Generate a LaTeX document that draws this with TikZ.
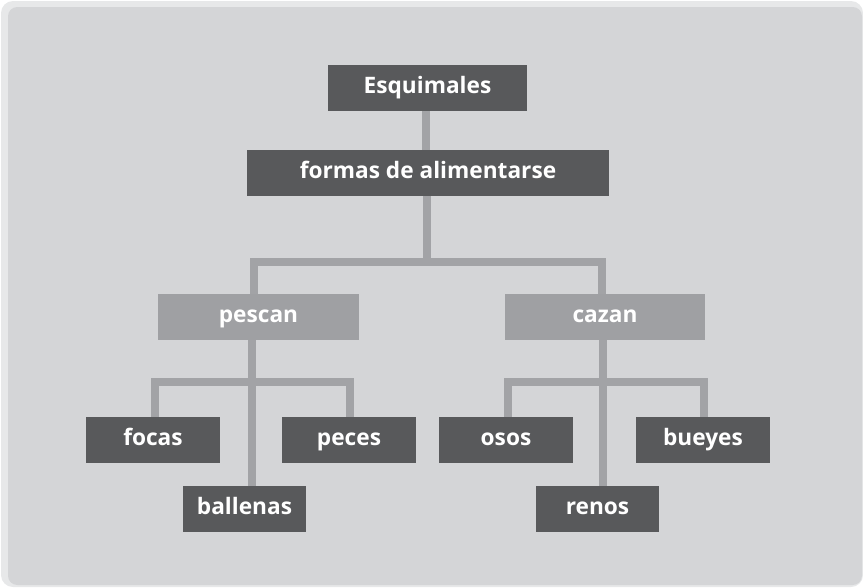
\documentclass[tikz,border=0pt]{standalone}
\usepackage{fontspec}
\setmainfont{Open Sans}
\usetikzlibrary{backgrounds}
\definecolor{panel}{HTML}{D4D5D7}
\definecolor{frame}{HTML}{E7E8E9}
\definecolor{darkbox}{HTML}{58595B}
\definecolor{lightbox}{HTML}{9FA0A3}
\definecolor{conncol}{HTML}{A2A3A6}
\tikzset{
  box/.style={fill=darkbox, text=white, font=\bfseries\fontsize{17}{20}\selectfont, inner sep=0pt, minimum height=34.5pt, text height=8pt, text depth=0pt},
  lbox/.style={box, fill=lightbox},
  conn/.style={draw=conncol, line width=6pt, line join=miter}
}
\begin{document}
\begin{tikzpicture}[x=0.75pt,y=-0.75pt]
\useasboundingbox (0,0) rectangle (863,587);
\node[box, minimum width=149.25pt] (esq) at (427.5,88) {Esquimales};
\node[box, minimum width=271.5pt] (form) at (428,173) {formas de alimentarse};
\node[lbox, minimum width=150.75pt] (pescan) at (258.5,317) {pescan};
\node[lbox, minimum width=150pt] (cazan) at (605,317) {cazan};
\node[box, minimum width=100.5pt] (focas) at (153,440) {focas};
\node[box, minimum width=100.5pt] (peces) at (349,440) {peces};
\node[box, minimum width=92.25pt] (ballenas) at (244.5,509) {ballenas};
\node[box, minimum width=100.5pt] (osos) at (506,440) {osos};
\node[box, minimum width=100.5pt] (bueyes) at (703,440) {bueyes};
\node[box, minimum width=92.25pt] (renos) at (597.5,509) {renos};
\coordinate (j1) at (254,262);
\coordinate (j2) at (602,262);
\coordinate (fl) at (155,382);
\coordinate (fr) at (350,382);
\coordinate (pv) at (252,382);
\coordinate (cl) at (508,382);
\coordinate (cr) at (704,382);
\coordinate (cv) at (603,382);
\begin{scope}[on background layer]
  \fill[frame, rounded corners=9pt] (1,1) rectangle (863,587);
  \fill[panel, rounded corners=7pt] (8,7) rectangle (862,585);
  \draw[conn] (esq.south -| 426,0) -- (form.north -| 426,0);
  \draw[conn] (form.south -| 427,0) -- (427,262);
  \draw[conn] (pescan.north -| j1) -- (j1) -- (j2) -- (j2 |- cazan.north);
  \draw[conn] (pescan.south -| pv) -- (ballenas.north -| pv);
  \draw[conn] (focas.north -| fl) -- (fl) -- (fr) -- (fr |- peces.north);
  \draw[conn] (cazan.south -| cv) -- (renos.north -| cv);
  \draw[conn] (osos.north -| cl) -- (cl) -- (cr) -- (cr |- bueyes.north);
\end{scope}
\end{tikzpicture}
\end{document}
